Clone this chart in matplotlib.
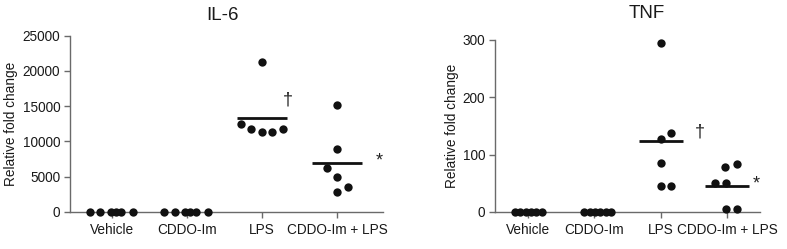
import numpy as np
import matplotlib
matplotlib.use("Agg")
import matplotlib.pyplot as plt

plt.rcParams['font.family'] = ['Liberation Sans', 'DejaVu Sans']

# data
groups = ["Vehicle", "CDDO-Im", "LPS", "CDDO-Im + LPS"]

il6_vehicle = [0, 0, 0, 0, 0, 0]
il6_cddo = [0, 0, 0, 0, 0, 0]
il6_lps = [21300, 12480, 11730, 11300, 11300, 11730]
il6_combo = [15170, 8930, 6290, 5010, 3500, 2880]

tnf_vehicle = [0, 0, 0, 0, 0, 0]
tnf_cddo = [0, 0, 0, 0, 0, 0]
tnf_lps = [294, 128, 138, 86, 46, 46]
tnf_combo = [78, 83, 51, 51, 5, 5]

il6_ticks = [0, 5000, 10000, 15000, 20000, 25000]
tnf_ticks = [0, 100, 200, 300]

# horizontal scatter of the dots
jit_il6 = [[-0.29, -0.15, -0.01, 0.06, 0.12, 0.28],
           [-0.30, -0.16, -0.03, 0.04, 0.12, 0.28],
           [0.0, -0.28, -0.15, 0.0, 0.14, 0.28],
           [0.0, 0.0, -0.14, 0.0, 0.15, 0.0]]
jit_tnf = [[-0.19, -0.11, -0.03, 0.05, 0.13, 0.22],
           [-0.15, -0.07, 0.01, 0.09, 0.17, 0.25],
           [0.0, 0.0, 0.16, 0.0, 0.0, 0.16],
           [-0.03, 0.14, -0.19, -0.02, -0.02, 0.14]]

gray = '#6a6a6a'


def draw_panel(ax, vals, jit, ticks, ylim, xlim, sig):
    for i, (v, j) in enumerate(zip(vals, jit)):
        ax.plot(np.array(j) + i, v, 'o', color='#111111', ms=6.0, mew=0,
                clip_on=False, zorder=3)
        if max(v) > 0:
            m = np.mean(v)
            ax.plot([i - 0.33, i + 0.33], [m, m], color='#111111', lw=2.0,
                    solid_capstyle='butt', zorder=3)
    # significance marks
    for (x, y, s, fs) in sig:
        ax.text(x, y, s, ha='center', va='center', fontsize=fs, color='#222222')

    ax.set_xlim(xlim)
    ax.set_ylim(ylim)
    ax.set_yticks(ticks)
    ax.set_yticklabels([str(t) for t in ticks])
    ax.set_xticks(range(len(groups)))
    ax.set_xticklabels(groups)
    for s in ['top', 'right']:
        ax.spines[s].set_visible(False)
    for s in ['left', 'bottom']:
        ax.spines[s].set_color(gray)
        ax.spines[s].set_linewidth(1.0)
    ax.tick_params(colors=gray, labelcolor='#1a1a1a', labelsize=9.8,
                   length=4, width=1.0, direction='out', pad=3)
    ax.tick_params(axis='x', pad=4)
    ax.set_ylabel("Relative fold change", fontsize=9.8, color='#1a1a1a',
                  labelpad=3)


fig = plt.figure(figsize=(7.87, 2.49), dpi=100)

ax1 = fig.add_axes([0.0889, 0.1486, 0.3977, 0.708])
draw_panel(ax1, [il6_vehicle, il6_cddo, il6_lps, il6_combo], jit_il6,
           il6_ticks, (0, 25000), (-0.555, 3.61),
           [(2.34, 15900, '\u2020', 13), (3.56, 7300, '*', 13)])

ax2 = fig.add_axes([0.629, 0.1486, 0.3367, 0.6908])
draw_panel(ax2, [tnf_vehicle, tnf_cddo, tnf_lps, tnf_combo], jit_tnf,
           tnf_ticks, (0, 300), (-0.49, 3.49),
           [(2.58, 140, '\u2020', 13), (3.43, 49, '*', 13)])

fig.text(223 / 787, 1 - 15 / 249, "IL-6", ha='center', va='center',
         fontsize=13.5, color='#1a1a1a')
fig.text(647 / 787, 1 - 14 / 249, "TNF", ha='center', va='center',
         fontsize=13.5, color='#1a1a1a')

fig.savefig("out.png", dpi=100)
